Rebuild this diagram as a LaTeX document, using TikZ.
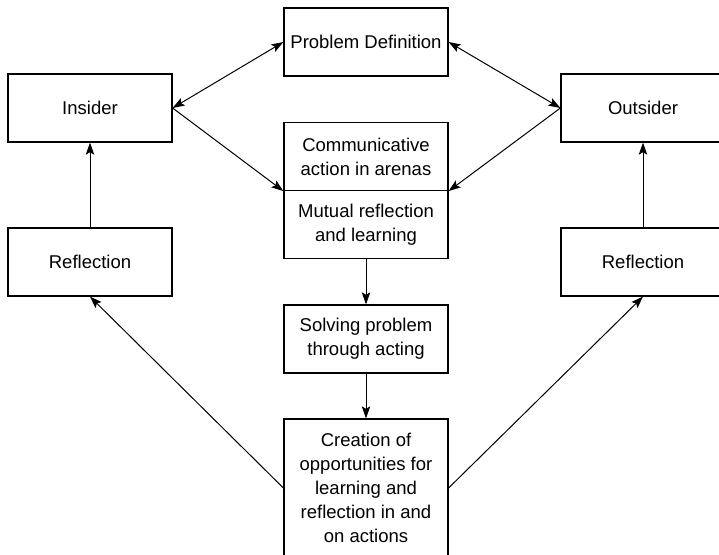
\documentclass[tikz,border=0pt]{standalone}
\usepackage{fontspec}
\setmainfont{Liberation Sans}
\usetikzlibrary{arrows.meta}

\tikzset{
  stagebox/.style={draw, line width=0.6pt, align=center, inner sep=2pt,
    minimum width=82pt, minimum height=34pt,
    font=\fontsize{9.25}{12}\selectfont},
  flow/.style={->, line width=0.5pt},
  twoway/.style={<->, line width=0.5pt}
}

\begin{document}
\begin{tikzpicture}[x=0.5pt, y=-0.5pt, >={Stealth[length=6pt, width=4.2pt, inset=1.2pt]}]
    % frame of the picture (boxes at the right and bottom run off the edge)
    \clip (0,0) rectangle (719,554);

    % central column
    \node[stagebox] (problem)  at (366,42)    {Problem Definition};
    \node[stagebox] (comm)     at (366,156.5) {Communicative\\action in arenas};
    \node[stagebox] (mutual)   at (366,224.5) {Mutual reflection\\and learning};
    \node[stagebox] (solving)  at (366,339)   {Solving problem\\through acting};
    \node[stagebox, minimum height=69pt] (creation) at (366,488)
      {Creation of\\opportunities for\\learning and\\reflection in and\\on actions};

    % the two sides
    \node[stagebox] (insider)  at (90,108)  {Insider};
    \node[stagebox] (reflL)    at (90,262)  {Reflection};
    \node[stagebox] (outsider) at (643,108) {Outsider};
    \node[stagebox] (reflR)    at (643,262) {Reflection};

    % insider and outsider with the problem and the arenas
    \draw[twoway] (insider.east)  -- (problem.west);
    \draw[twoway] (outsider.west) -- (problem.east);
    \draw[flow]   (insider.east)  -- (comm.south west);
    \draw[flow]   (outsider.west) -- (comm.south east);

    % down the middle
    \draw[flow] (mutual)  -- (solving);
    \draw[flow] (solving) -- (creation);

    % back up both sides
    \draw[flow] (creation.west) -- (reflL.south);
    \draw[flow] (creation.east) -- (reflR.south);
    \draw[flow] (reflL) -- (insider);
    \draw[flow] (reflR) -- (outsider);
  \end{tikzpicture}
\end{document}
